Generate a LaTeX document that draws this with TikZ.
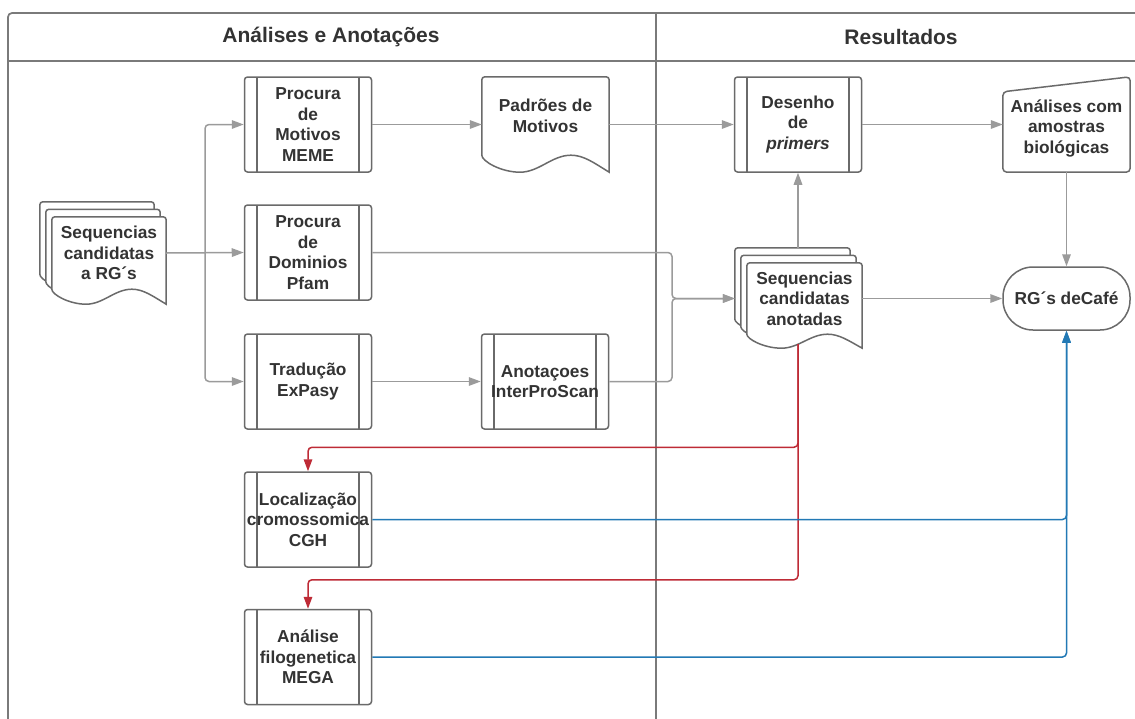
\documentclass[tikz,border=0pt]{standalone}
\usepackage{fontspec}
\setmainfont{Liberation Sans}
\usetikzlibrary{arrows.meta,calc}
\pgfdeclarelayer{lanes}
\pgfdeclarelayer{shapes}
\pgfsetlayers{lanes,shapes,main}
\definecolor{txt}{HTML}{333333}
\definecolor{edge}{HTML}{6A6A6A}
\definecolor{lane}{HTML}{7A7A7A}
\definecolor{arr}{HTML}{9B9B9B}
\definecolor{redl}{HTML}{BE2B36}
\definecolor{bluel}{HTML}{2279B5}
% document shape drawn around node #1 with wave amplitude #2
\newcommand\docshape[2]{%
  \draw[edge,line width=1.5pt,fill=white]
    (#1.south west) -- ($(#1.north west)+(0,3)$) arc[start angle=180,end angle=270,radius=3]
    -- ($(#1.north east)+(-3,0)$) arc[start angle=270,end angle=360,radius=3]
    -- ($(#1.south east)+(0,#2)$)
    .. controls ($(#1.south west)!0.88!(#1.south east)+(0,0.45*#2)$) and ($(#1.south west)!0.8!(#1.south east)$) .. ($(#1.south west)!0.7!(#1.south east)$)
    .. controls ($(#1.south west)!0.55!(#1.south east)$) and ($(#1.south west)!0.45!(#1.south east)+(0,#2)$) .. ($(#1.south west)!0.3!(#1.south east)+(0,#2)$)
    .. controls ($(#1.south west)!0.15!(#1.south east)+(0,#2)$) and ($(#1.south west)+(0,0.35*#2)$) .. (#1.south west) -- cycle;}
\begin{document}
\begin{tikzpicture}[x=1pt,y=-1pt,
  lbl/.style={font=\fontsize{17.3}{20.5}\selectfont\bfseries, text=txt, align=center, inner sep=0pt},
  head/.style={font=\fontsize{21}{24}\selectfont\bfseries, text=txt, inner sep=0pt},
  proc/.style={lbl, draw=edge, line width=1.5pt, rounded corners=3pt, fill=white,
    minimum width=127pt, minimum height=95pt,
    path picture={\draw[edge,line width=1.5pt]
      ([xshift=12.5pt]path picture bounding box.north west) -- ([xshift=12.5pt]path picture bounding box.south west)
      ([xshift=-12.5pt]path picture bounding box.north east) -- ([xshift=-12.5pt]path picture bounding box.south east);}},
  docbox/.style={lbl, draw=none},
  termbox/.style={lbl, draw=edge, line width=1.5pt, rounded corners=30pt, fill=white, minimum width=127pt, minimum height=63pt},
  flow/.style={draw=arr, line width=1.5pt, rounded corners=4pt, -{Triangle[length=12pt,width=8.5pt]}},
  redflow/.style={draw=redl, line width=1.5pt, rounded corners=4pt, -{Triangle[length=12pt,width=8.5pt]}},
  blueflow/.style={draw=bluel, line width=1.5pt, rounded corners=4pt, -{Triangle[length=12pt,width=8.5pt]}},
  lanestyle/.style={draw=lane, line width=1.7pt}
]
\useasboundingbox (0,0) rectangle (1135,718);
\clip (0,0) rectangle (1135,718);

% swimlanes
\begin{pgfonlayer}{lanes}
  \fill[white] (0,0) rectangle (1135,718);
  \draw[lanestyle, rounded corners=4pt] (1160,760) -- (8,760) -- (8,13) -- (1160,13);
  \draw[lanestyle] (8,61) -- (1160,61);
  \draw[lanestyle] (656,13) -- (656,760);
\end{pgfonlayer}
\node[head] (h1) at (331,37) {Análises e Anotações};
\node[head] (h2) at (901,37) {Resultados};

% process boxes
\node[proc] (meme) at (308,124.5) {Procura\\de\\Motivos\\MEME};
\node[proc] (pfam) at (308,252.5) {Procura\\de\\Dominios\\Pfam};
\node[proc] (trad) at (308,381.5) {Tradução\\ExPasy};
\node[proc] (inter) at (545,381.5) {Anotaçoes\\InterProScan};
\node[proc] (loc) at (308,519.5) {Localização\\cromossomica\\CGH};
\node[proc] (mega) at (308,657) {Análise\\filogenetica\\MEGA};
\node[proc] (des) at (798,124.5) {Desenho\\de\\\textit{primers}};

% documents
\node[docbox, minimum width=114pt, minimum height=72pt] (seqlC) at (97,238) {};
\node[docbox, minimum width=114pt, minimum height=72pt] (seqlB) at (103,245.5) {};
\node[docbox, minimum width=114pt, minimum height=72pt] (seql) at (109,253) {Sequencias\\candidatas\\a RG´s};
\node[docbox, minimum width=127pt, minimum height=78pt] (pad) at (545.5,116) {Padrões de\\Motivos};
\node[docbox, minimum width=115pt, minimum height=71pt] (seqaC) at (792.5,283.5) {};
\node[docbox, minimum width=115pt, minimum height=71pt] (seqaB) at (798.5,291) {};
\node[docbox, minimum width=115pt, minimum height=71pt] (seqa) at (804.5,298.5) {Sequencias\\candidatas\\anotadas};

% manual input and terminal
\node[docbox, minimum width=127pt, minimum height=88pt] (ana) at (1066.5,128) {Análises com\\amostras\\biológicas};
\node[termbox] (rg) at (1066.5,298.5) {RG´s deCafé};

\begin{pgfonlayer}{shapes}
  \docshape{seqlC}{15}
  \docshape{seqlB}{15}
  \docshape{seql}{15}
  \docshape{pad}{17}
  \docshape{seqaC}{14}
  \docshape{seqaB}{14}
  \docshape{seqa}{14}
  \draw[edge, line width=1.5pt, fill=white, rounded corners=4pt]
    (ana.south west) -- ($(ana.north west)+(0,8)$) -- ($(ana.north east)+(0,-7)$) -- (ana.south east) -- cycle;
\end{pgfonlayer}

% connectors
\coordinate (split) at (205,253);
\coordinate (merge) at (672,298.5);
\draw[flow] (seql.east) -- (pfam.west);
\draw[flow] (split) |- (meme.west);
\draw[flow] (split) |- (trad.west);
\draw[flow] (meme.east) -- (meme.east -| pad.west);
\draw[flow] (meme.east -| pad.east) -- (des.west);
\draw[flow] (trad.east) -- (inter.west);
\draw[flow] (pfam.east) -| (merge) -- (seqa.west -| seqaC.west);
\draw[flow] (inter.east) -| (merge) -- (seqa.west -| seqaC.west);
\draw[flow] (des.south |- seqaC.north) -- (des.south);
\draw[flow] (des.east) -- (ana.west |- des.east);
\draw[flow] (ana.south) -- (rg.north);
\draw[flow] (seqa.east) -- (rg.west);

\coordinate (rstart) at ($(des.south |- seqa.south)+(0,10)$);
\draw[redflow] (rstart) |- ($(loc.north)+(0,-24)$) -- (loc.north);
\draw[redflow] (rstart) |- ($(mega.north)+(0,-29)$) -- (mega.north);

\draw[blueflow] (loc.east) -| (rg.south);
\draw[blueflow] (mega.east) -| (rg.south);
\end{tikzpicture}
\end{document}
